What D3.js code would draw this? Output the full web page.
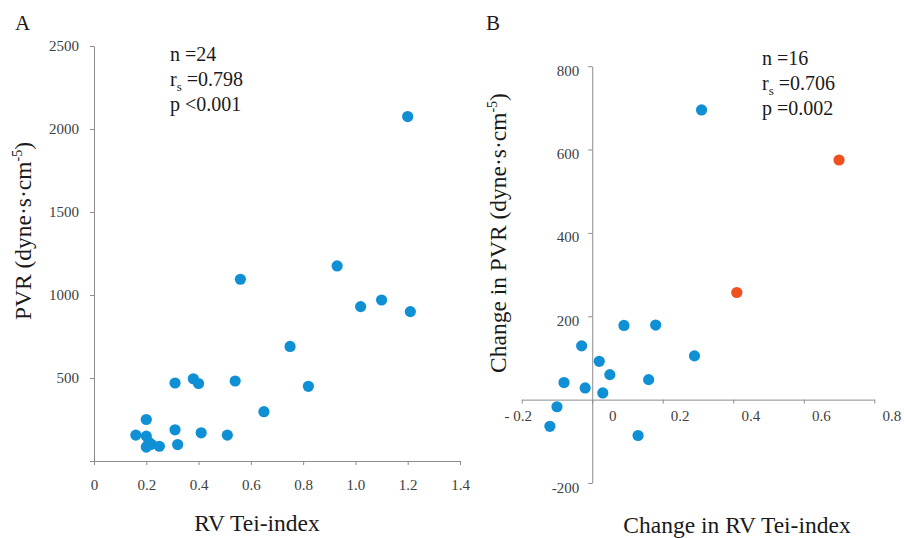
<!DOCTYPE html>
<html>
<head>
<meta charset="utf-8">
<script src="https://cdn.jsdelivr.net/npm/d3@7"></script>
<style>
  body { margin: 0; background: #fff; }
  svg { display: block; font-family: "Liberation Serif", "Times New Roman", serif; }
  .axis path, .axis line { stroke: #8c8c8c; stroke-width: 1; }
  .axis text { font-family: "Liberation Serif", "Times New Roman", serif; font-size: 15px; fill: #404040; }
</style>
</head>
<body>
<svg id="chart" width="904" height="538"></svg>
<script>
// panel A: RV Tei-index vs PVR
const teiA = [1.20, 0.93, 0.56, 1.10, 1.02, 1.21, 0.75, 0.82, 0.54, 0.38, 0.40, 0.31,
              0.65, 0.20, 0.31, 0.41, 0.51, 0.16, 0.20, 0.21, 0.20, 0.25, 0.32, 0.22];
const pvrA = [2075, 1175, 1095, 970, 930, 900, 690, 450, 482, 495, 467, 470,
              297, 250, 188, 170, 156, 156, 150, 112, 84, 89, 99, 100];
const xTicksA = [0, 0.2, 0.4, 0.6, 0.8, 1.0, 1.2, 1.4];
const yTicksA = [500, 1000, 1500, 2000, 2500];
const statsA = ['n =24', '0.798', 'p <0.001'];

// panel B: change in RV Tei-index vs change in PVR
const dTeiB = [0.31, 0.70, 0.41, 0.09, 0.18, -0.03, 0.29, 0.02, 0.05, -0.08, -0.02, 0.16, 0.03, -0.10, -0.12, 0.13];
const dPvrB = [695, 575, 257, 178, 179, 129, 105, 92, 60, 41, 28, 48, 16, -17, -64, -86];
const groupB = ['a', 'b', 'b', 'a', 'a', 'a', 'a', 'a', 'a', 'a', 'a', 'a', 'a', 'a', 'a', 'a'];
const xTicksB = [-0.2, 0, 0.2, 0.4, 0.6, 0.8];
const yTicksB = [-200, 200, 400, 600, 800];
const statsB = ['n =16', '0.706', 'p =0.002'];

const blue = '#1090d4', orange = '#ee501e';
const serif = '"Liberation Serif", "Times New Roman", serif';
const svg = d3.select('#chart');

// ---------- panel A ----------
const xA = d3.scaleLinear().domain([0, 1.4]).range([94, 460]);
const yA = d3.scaleLinear().domain([0, 2500]).range([461, 46]);

svg.append('g').attr('class', 'axis')
  .attr('transform', `translate(0,${yA(0)})`)
  .call(d3.axisBottom(xA).tickValues(xTicksA).tickSize(4).tickSizeOuter(0).tickPadding(14)
    .tickFormat(d => d === 0 ? '0' : d3.format('.1f')(d)))
  .attr('font-family', serif).attr('font-size', 15);

svg.append('g').attr('class', 'axis')
  .attr('transform', `translate(${xA(0)},0)`)
  .call(d3.axisLeft(yA).tickValues([0, ...yTicksA]).tickSize(4).tickSizeOuter(0).tickPadding(11)
    .tickFormat(d => d === 0 ? '' : d))
  .attr('font-family', serif).attr('font-size', 15);

svg.append('g').selectAll('circle')
  .data(teiA.map((t, i) => [t, pvrA[i]]))
  .join('circle')
  .attr('cx', d => xA(d[0]))
  .attr('cy', d => yA(d[1]))
  .attr('r', 5.6)
  .attr('fill', blue);

// ---------- panel B ----------
const xB = d3.scaleLinear().domain([-0.2, 0.8]).range([521.7, 874.3]);
const yB = d3.scaleLinear().domain([-200, 800]).range([483, 66.2]);

const gxB = svg.append('g').attr('class', 'axis')
  .attr('transform', `translate(0,${yB(0)})`)
  .call(d3.axisBottom(xB).tickValues(xTicksB).tickSize(4).tickSizeOuter(0).tickPadding(7)
    .tickFormat(d => d === 0 ? '0' : d < 0 ? '- ' + d3.format('.1f')(-d) : d3.format('.1f')(d)))
  .attr('font-family', serif).attr('font-size', 15);
gxB.selectAll('.tick text').attr('dx', d => d < 0 ? -4 : d === 0 ? 20 : 17);

const gyB = svg.append('g').attr('class', 'axis')
  .attr('transform', `translate(${xB(0)},0)`)
  .call(d3.axisLeft(yB).tickValues([0, ...yTicksB]).tickSize(4).tickSizeOuter(0).tickPadding(9)
    .tickFormat(d => d === 0 ? '' : d))
  .attr('font-family', serif).attr('font-size', 15);
gyB.selectAll('.tick text').attr('dy', '0.6em');
gyB.selectAll('.tick').filter(d => d === 0).select('line').remove();

svg.append('g').selectAll('circle')
  .data(dTeiB.map((t, i) => [t, dPvrB[i], groupB[i]]))
  .join('circle')
  .attr('cx', d => xB(d[0]))
  .attr('cy', d => yB(d[1]))
  .attr('r', 5.6)
  .attr('fill', d => d[2] === 'b' ? orange : blue);

// ---------- text ----------
function stats(x, y0, lines) {
  const g = svg.append('g').attr('font-size', 20).attr('fill', '#1a1a1a');
  g.append('text').attr('x', x).attr('y', y0).text(lines[0]);
  const t = g.append('text').attr('x', x).attr('y', y0 + 25);
  t.append('tspan').text('r');
  t.append('tspan').attr('font-size', 13).attr('dy', 5).text('s');
  t.append('tspan').attr('dy', -5).text(' =' + lines[1]);
  g.append('text').attr('x', x).attr('y', y0 + 50).text(lines[2]);
}
stats(170, 61, statsA);
stats(762, 65, statsB);

svg.append('text').attr('x', 15).attr('y', 30).attr('font-size', 21).attr('fill', '#1a1a1a').text('A');
svg.append('text').attr('x', 486).attr('y', 30).attr('font-size', 21).attr('fill', '#1a1a1a').text('B');

function yTitle(cx, cy, prefix) {
  const t = svg.append('text')
    .attr('transform', `translate(${cx},${cy}) rotate(-90)`)
    .attr('text-anchor', 'middle').attr('dy', '0.35em')
    .attr('font-size', 23.5).attr('fill', '#1a1a1a');
  t.append('tspan').text(prefix + 'PVR (dyne·s·cm');
  t.append('tspan').attr('font-size', 14).attr('dy', -9).text('-5');
  t.append('tspan').attr('dy', 9).text(')');
}
yTitle(23, 231, '');
yTitle(498, 233, 'Change in ');

svg.append('text').attr('x', 257).attr('y', 531).attr('text-anchor', 'middle')
  .attr('font-size', 23.5).attr('fill', '#1a1a1a').text('RV Tei-index');
svg.append('text').attr('x', 737).attr('y', 533).attr('text-anchor', 'middle')
  .attr('font-size', 23.5).attr('fill', '#1a1a1a').text('Change in RV Tei-index');
</script>
</body>
</html>
